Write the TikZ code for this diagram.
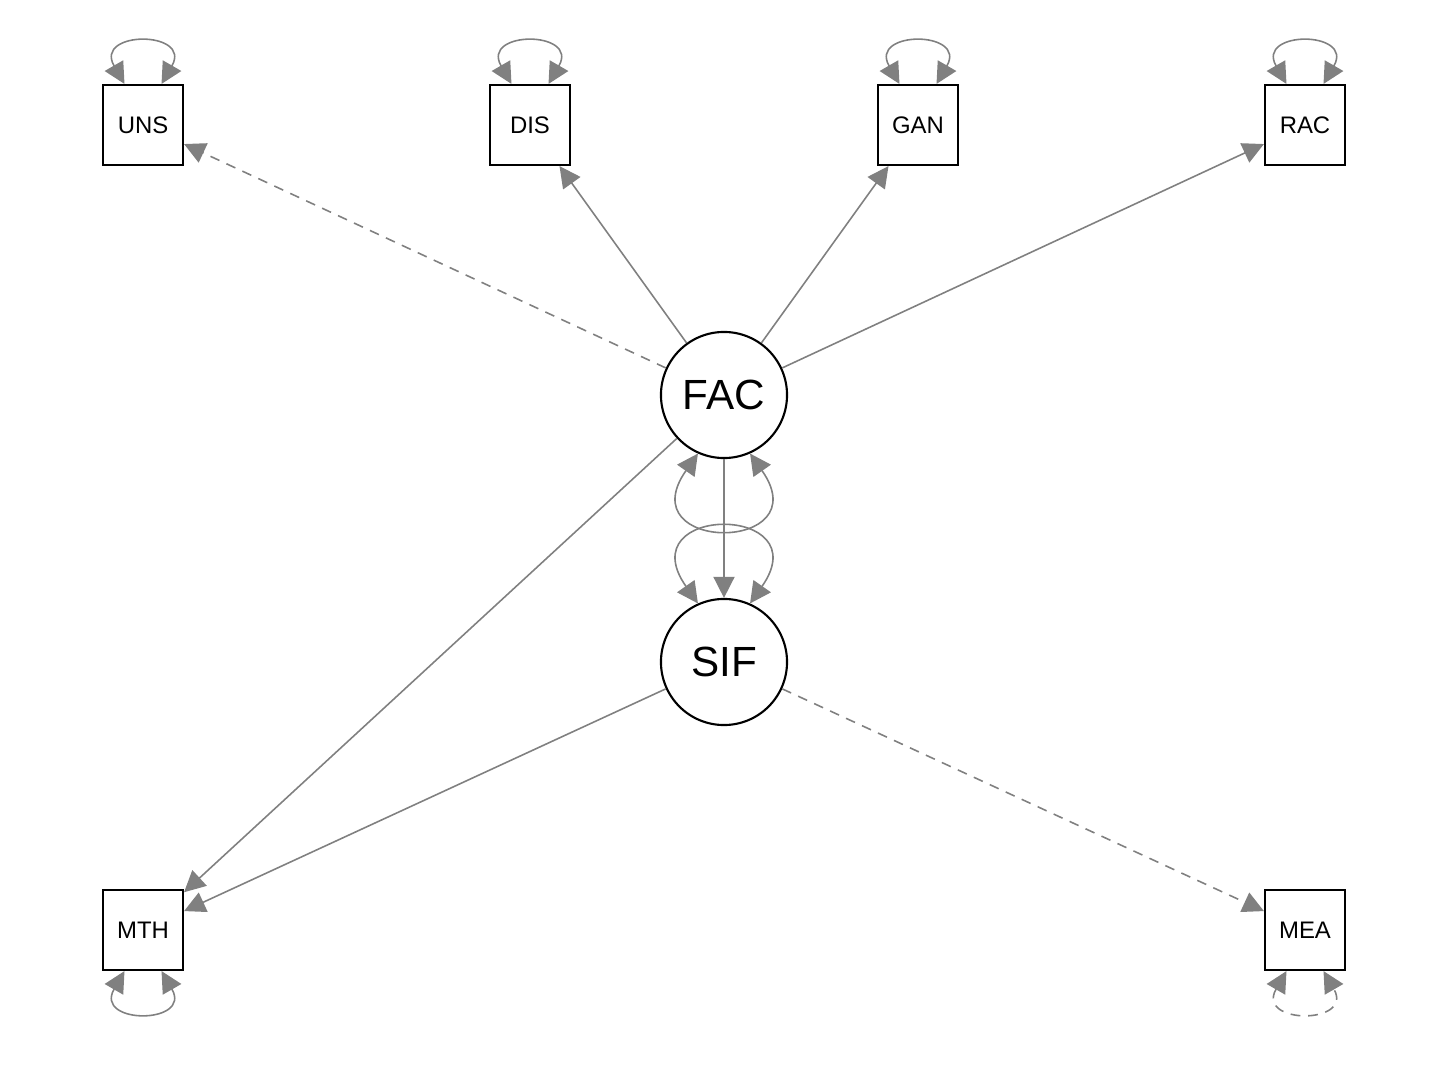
\documentclass[tikz,border=0pt]{standalone}
\usepackage{fontspec}
\setmainfont{Liberation Sans}
\usetikzlibrary{arrows.meta}

\begin{document}
\begin{tikzpicture}[
    x=0.01cm, y=-0.01cm,
    >={Triangle[length=6pt,width=6pt]},
    manifest/.style={draw, line width=0.6pt, minimum size=0.8cm, inner sep=0pt,
        font=\fontsize{6.8}{8}\selectfont},
    latent/.style={draw, circle, line width=0.6pt, minimum size=1.26cm, inner sep=0pt,
        font=\fontsize{12}{14}\selectfont},
    loading/.style={->, draw=gray, line width=0.45pt},
    fixed/.style={dash pattern=on 2.8pt off 2.2pt},
    resid/.style={<->, draw=gray, line width=0.45pt}
]
    \useasboundingbox (0,0) rectangle (1450,1070);

    % manifest variables
    \node[manifest] (uns) at (143,125) {UNS};
    \node[manifest] (dis) at (530,125) {DIS};
    \node[manifest] (gan) at (918,125) {GAN};
    \node[manifest] (rac) at (1305,125) {RAC};
    \node[manifest] (mth) at (143,930) {MTH};
    \node[manifest] (mea) at (1305,930) {MEA};

    % latent variables
    \node[latent] (fac) at (724,395) {FAC};
    \node[latent] (sif) at (724,662) {SIF};

    % loadings and regressions
    \draw[loading, fixed] (fac) -- (uns);
    \draw[loading] (fac) -- (dis);
    \draw[loading] (fac) -- (gan);
    \draw[loading] (fac) -- (rac);
    \draw[loading] (fac) -- (mth);
    \draw[loading] (fac) -- (sif);
    \draw[loading] (sif) -- (mth);
    \draw[loading, fixed] (sif) -- (mea);

    % variances
    \foreach \v in {uns, dis, gan, rac}
        \draw[resid] ([xshift=-0.185cm]\v.north) to[out=120, in=60, looseness=4.3]
            ([xshift=0.185cm]\v.north);
    \draw[resid] ([xshift=-0.185cm]mth.south) to[out=-120, in=-60, looseness=4.3]
        ([xshift=0.185cm]mth.south);
    \draw[resid, fixed] ([xshift=-0.185cm]mea.south) to[out=-120, in=-60, looseness=4.3]
        ([xshift=0.185cm]mea.south);
    \draw[resid] (fac.-114) to[out=-125, in=-55, looseness=6] (fac.-66);
    \draw[resid] (sif.114) to[out=125, in=55, looseness=6] (sif.66);
\end{tikzpicture}
\end{document}
